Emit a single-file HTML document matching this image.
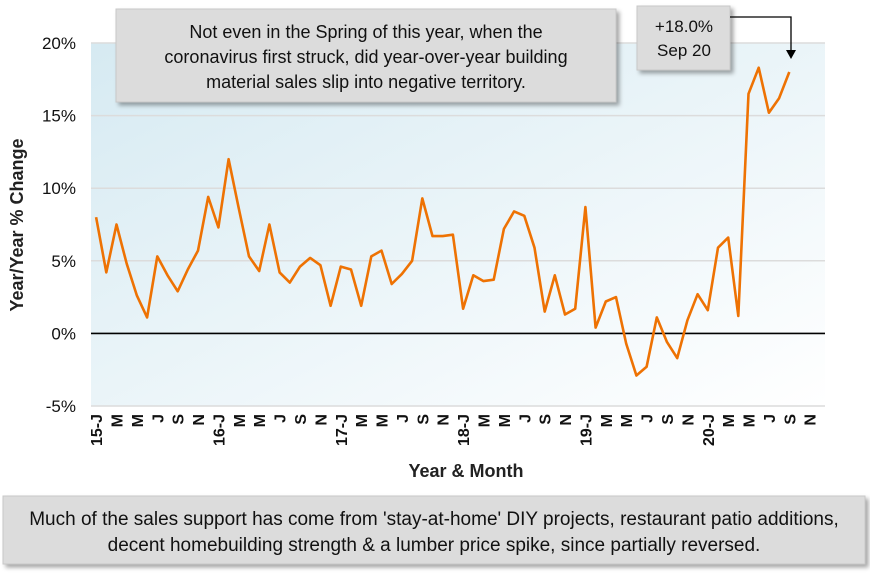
<!DOCTYPE html>
<html><head><meta charset="utf-8"><style>
body{margin:0;background:#fff;}
svg text{font-family:"Liberation Sans",sans-serif;}
</style></head><body>
<svg width="870" height="576" viewBox="0 0 870 576" xmlns="http://www.w3.org/2000/svg">
<defs>
<linearGradient id="bg" x1="0" y1="0" x2="1" y2="1">
<stop offset="0" stop-color="#d6eaf2"/><stop offset="1" stop-color="#ffffff"/>
</linearGradient>
<filter id="sh" x="-5%" y="-10%" width="115%" height="130%"><feDropShadow dx="3" dy="3" stdDeviation="2" flood-color="#000" flood-opacity="0.35"/></filter>
</defs>
<rect x="91" y="43" width="734" height="363" fill="url(#bg)"/>
<g id="grid"></g>
<g id="yl"></g>
<g id="xl"></g>
<path id="line" fill="none" stroke="#ee7203" stroke-width="2.6" stroke-linejoin="round"/>
<text transform="translate(23,225) rotate(-90)" text-anchor="middle" font-size="18" font-weight="bold" fill="#222">Year/Year % Change</text>
<text x="466" y="477" text-anchor="middle" font-size="18" font-weight="bold" fill="#222">Year &amp; Month</text>
<g>
<rect x="116" y="9" width="500" height="93" fill="#dcdcdc" stroke="#c8c8c8" filter="url(#sh)"/>
<text font-size="18" fill="#111" text-anchor="middle"><tspan x="366" y="38">Not even in the Spring of this year, when the</tspan><tspan x="366" y="63">coronavirus first struck, did year-over-year building</tspan><tspan x="366" y="88">material sales slip into negative territory.</tspan></text>
</g>
<g>
<rect x="637" y="6" width="93" height="64" fill="#dcdcdc" stroke="#c8c8c8" filter="url(#sh)"/>
<text font-size="17" fill="#111" text-anchor="middle"><tspan x="684" y="32">+18.0%</tspan><tspan x="684" y="56">Sep 20</tspan></text>
</g>
<path d="M730,17 H791 V52" fill="none" stroke="#000" stroke-width="1.3"/>
<path d="M786,50 L796,50 L791,59 Z" fill="#000"/>
<g>
<rect x="3" y="496" width="862" height="68" fill="#dcdcdc" stroke="#c8c8c8" filter="url(#sh)"/>
<text font-size="19" fill="#111" text-anchor="middle"><tspan x="434" y="525">Much of the sales support has come from 'stay-at-home' DIY projects, restaurant patio additions,</tspan><tspan x="434" y="551">decent homebuilding strength &amp; a lumber price spike, since partially reversed.</tspan></text>
</g>
</svg>
<script>
const values=[8.0,4.2,7.5,4.8,2.6,1.1,5.3,4.0,2.9,4.4,5.7,9.4,
7.3,12.0,8.6,5.3,4.3,7.5,4.2,3.5,4.6,5.2,4.7,1.9,
4.6,4.4,1.9,5.3,5.7,3.4,4.1,5.0,9.3,6.7,6.7,6.8,
1.7,4.0,3.6,3.7,7.2,8.4,8.1,5.9,1.5,4.0,1.3,1.7,
8.7,0.4,2.2,2.5,-0.7,-2.9,-2.3,1.1,-0.6,-1.7,0.9,2.7,
1.6,5.9,6.6,1.2,16.5,18.3,15.2,16.2,18.0];
const yTicks=[-5,0,5,10,15,20];
const years=['15','16','17','18','19','20'];
const months=['J','F','M','A','M','J','J','A','S','O','N','D'];
const NS='http://www.w3.org/2000/svg';
const L=91,R=825,T=43,B=406,N=72;
const x=i=>L+(i+0.5)*(R-L)/N;
const y=v=>T+(20-v)/25*(B-T);
const g=document.getElementById('grid'),yl=document.getElementById('yl'),xl=document.getElementById('xl');
yTicks.forEach(t=>{
  const ln=document.createElementNS(NS,'line');
  
  
  ln.setAttribute('x1',L);ln.setAttribute('x2',R);ln.setAttribute('y1',y(t));ln.setAttribute('y2',y(t));
  ln.setAttribute('stroke',t===0?'#000':'#dcdcdc');ln.setAttribute('stroke-width',t===0?1.6:1.5);
  g.appendChild(ln);
  const tx=document.createElementNS(NS,'text');
  
  
  tx.setAttribute('x',76);tx.setAttribute('y',y(t)+6);tx.setAttribute('text-anchor','end');
  tx.setAttribute('font-size','17');tx.setAttribute('fill','#111');
  tx.textContent=t+'%';yl.appendChild(tx);
});
for(let i=0;i<N;i+=2){
  const m=i%12,lab=m===0?years[i/12]+'-J':months[m];
  const tx=document.createElementNS(NS,'text');
  
  
  tx.setAttribute('transform','translate('+(x(i)+6)+',414) rotate(-90)');
  tx.setAttribute('text-anchor','end');tx.setAttribute('font-size','16');tx.setAttribute('font-weight','600');tx.setAttribute('fill','#111');
  tx.textContent=lab;xl.appendChild(tx);
}
document.getElementById('line').setAttribute('d',values.map((v,i)=>(i?'L':'M')+x(i).toFixed(1)+','+y(v).toFixed(1)).join(' '));
</script>
</body></html>
